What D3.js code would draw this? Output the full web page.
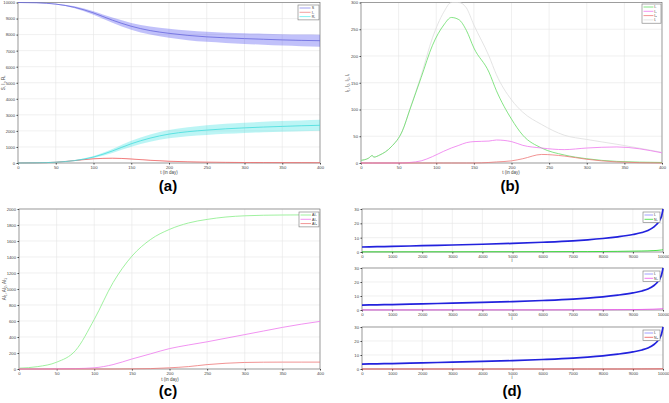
<!DOCTYPE html>
<html>
<head>
<meta charset="utf-8">
<script src="https://cdn.jsdelivr.net/npm/d3@7"></script>
<style>
  body { margin: 0; background: #fff; }
  svg { font-family: "Liberation Sans", Arial, sans-serif; }
  .tick text { font-size: 4.2px; fill: #444; }
  .tick line { stroke: #444; }
</style>
</head>
<body>
<script>
// panel (a): S, I_s, R_s with bands
const tA = [0, 25, 50, 75, 100, 125, 150, 175, 200, 225, 250, 275, 300, 325, 350, 375, 400];
const sMean = [10000, 9980, 9900, 9700, 9350, 8900, 8520, 8250, 8080, 7950, 7860, 7800, 7750, 7710, 7670, 7640, 7620];
const sBand = [0, 5, 20, 60, 110, 160, 210, 250, 280, 300, 310, 320, 330, 340, 350, 360, 370];
const isMean = [0, 10, 50, 150, 260, 300, 250, 170, 110, 75, 55, 40, 30, 25, 22, 20, 18];
const isBand = [0, 2, 5, 10, 15, 18, 18, 15, 12, 10, 8, 6, 5, 5, 4, 4, 4];
const rsMean = [0, 10, 50, 150, 370, 750, 1200, 1550, 1800, 1950, 2050, 2130, 2190, 2240, 2280, 2320, 2350];
const rsBand = [0, 3, 10, 30, 60, 120, 180, 230, 260, 280, 300, 310, 320, 325, 330, 335, 340];

// panel (b): daily infections
const tB = [0, 10, 15, 17, 25, 40, 55, 65, 80, 95, 110, 120, 130, 140, 150, 170, 180, 200, 215, 240, 270, 300, 340, 400];
const i1 = [5, 9, 14, 11, 15, 30, 60, 100, 160, 220, 258, 272, 268, 248, 215, 170, 135, 82, 52, 28, 15, 8, 3, 1];
const i2 = [0, 0, 0, 0, 0, 0, 0, 1, 4, 12, 22, 28, 33, 38, 40, 41, 43, 40, 33, 28, 25, 28, 30, 19];
const i3 = [0, 0, 0, 0, 0, 0, 0, 0, 0, 0, 0, 0, 0, 0, 0, 1, 2, 4, 8, 16, 13, 7, 2, 0];
const iT = [5, 9, 14, 11, 15, 30, 60, 101, 164, 234, 282, 300, 300, 290, 258, 200, 165, 118, 95, 72, 52, 44, 35, 20];

// panel (c): cumulative infections
const tC = [0, 25, 50, 75, 100, 125, 150, 175, 200, 225, 250, 275, 300, 325, 350, 375, 400];
const ai1 = [10, 30, 85, 230, 620, 1080, 1410, 1620, 1745, 1825, 1870, 1900, 1915, 1922, 1925, 1926, 1927];
const ai2 = [0, 0, 2, 5, 15, 55, 125, 190, 255, 300, 340, 385, 430, 475, 520, 560, 595];
const ai3 = [0, 0, 0, 0, 0, 0, 2, 5, 15, 30, 55, 72, 82, 85, 86, 86, 86];

// panel (d): sorted individual values
const idx = [0, 500, 1000, 2000, 3000, 4000, 5000, 6000, 7000, 7500, 8000, 8500, 9000, 9300, 9500, 9700, 9800, 9900, 9950, 10000];
const blueVals = [3.5, 3.7, 3.9, 4.4, 4.9, 5.4, 6.0, 6.8, 7.8, 8.5, 9.4, 10.6, 12.2, 13.6, 15.0, 17.5, 19.5, 22.5, 25, 30];
const greenVals = [0.1, 0.1, 0.1, 0.15, 0.15, 0.2, 0.2, 0.25, 0.3, 0.3, 0.35, 0.45, 0.6, 0.7, 0.8, 1.0, 1.1, 1.3, 1.4, 1.6];
const magVals = [0.05, 0.05, 0.05, 0.05, 0.1, 0.1, 0.1, 0.1, 0.15, 0.15, 0.2, 0.25, 0.3, 0.4, 0.5, 0.6, 0.7, 0.8, 0.9, 1.1];
const redVals = [0, 0, 0, 0, 0, 0, 0, 0, 0, 0, 0, 0, 0.02, 0.03, 0.05, 0.06, 0.08, 0.1, 0.12, 0.15];

const W = 669, H = 403;
const svg = d3.select("body").append("svg").attr("width", W).attr("height", H);
const fmt = d3.format("d");

function axesBox(box, xDom, yDom, xTicks, yTicks) {
  const g = svg.append("g");
  const x = d3.scaleLinear().domain(xDom).range([box.l, box.r]);
  const y = d3.scaleLinear().domain(yDom).range([box.b, box.t]);
  // grid
  g.selectAll(".gx").data(xTicks).enter().append("line")
    .attr("x1", d => x(d)).attr("x2", d => x(d)).attr("y1", box.t).attr("y2", box.b)
    .attr("stroke", "#e6e6e6").attr("stroke-width", 0.6);
  g.selectAll(".gy").data(yTicks).enter().append("line")
    .attr("y1", d => y(d)).attr("y2", d => y(d)).attr("x1", box.l).attr("x2", box.r)
    .attr("stroke", "#e6e6e6").attr("stroke-width", 0.6);
  g.append("rect").attr("x", box.l).attr("y", box.t)
    .attr("width", box.r - box.l).attr("height", box.b - box.t)
    .attr("fill", "none").attr("stroke", "#666").attr("stroke-width", 0.6);
  g.append("g").attr("transform", `translate(0,${box.b})`)
    .call(d3.axisBottom(x).tickValues(xTicks).tickFormat(fmt).tickSize(1.5).tickPadding(1.5))
    .call(a => a.select(".domain").remove());
  g.append("g").attr("transform", `translate(${box.l},0)`)
    .call(d3.axisLeft(y).tickValues(yTicks).tickFormat(fmt).tickSize(1.5).tickPadding(1.5))
    .call(a => a.select(".domain").remove());
  return { g, x, y };
}

function line(ax, xs, ys, color, w) {
  const gen = d3.line().x((d, i) => ax.x(xs[i])).y(d => ax.y(d)).curve(d3.curveMonotoneX);
  ax.g.append("path").attr("d", gen(ys)).attr("fill", "none")
    .attr("stroke", color).attr("stroke-width", w || 0.8);
}

function band(ax, xs, mean, half, color) {
  const gen = d3.area().x((d, i) => ax.x(xs[i]))
    .y0((d, i) => ax.y(mean[i] - half[i])).y1((d, i) => ax.y(mean[i] + half[i]))
    .curve(d3.curveMonotoneX);
  ax.g.append("path").attr("d", gen(mean)).attr("fill", color).attr("opacity", 0.3);
}

function legend(ax, x0, y0, w, items) {
  const rowH = 4.3;
  ax.g.append("rect").attr("x", x0).attr("y", y0).attr("width", w)
    .attr("height", items.length * rowH + 2).attr("fill", "#fff")
    .attr("stroke", "#777").attr("stroke-width", 0.6);
  items.forEach((it, i) => {
    const yy = y0 + 3 + i * rowH;
    ax.g.append("line").attr("x1", x0 + 1.5).attr("x2", x0 + w * 0.6).attr("y1", yy).attr("y2", yy)
      .attr("stroke", it.c).attr("stroke-width", 0.8);
    ax.g.append("text").attr("x", x0 + w * 0.65).attr("y", yy + 1.3)
      .attr("font-size", 3.6).attr("fill", "#333").text(it.t);
  });
}

function ylabel(x, y, txt) {
  svg.append("text").attr("transform", `translate(${x},${y}) rotate(-90)`)
    .attr("text-anchor", "middle").attr("font-size", 4.5).attr("fill", "#444").text(txt);
}
function xlabel(x, y, txt) {
  svg.append("text").attr("x", x).attr("y", y).attr("text-anchor", "middle")
    .attr("font-size", 4.5).attr("fill", "#444").text(txt);
}
function panelTag(x, y, txt) {
  svg.append("text").attr("x", x).attr("y", y).attr("text-anchor", "middle")
    .attr("font-size", 15).attr("font-weight", "bold").attr("fill", "#000").text(txt);
}

const dayTicks = d3.range(0, 401, 50);

// (a)
const A = axesBox({ l: 18, r: 320, t: 2.5, b: 163 }, [0, 400], [0, 10000], dayTicks, d3.range(0, 10001, 1000));
band(A, tA, sMean, sBand, "#3333ee");
band(A, tA, rsMean, rsBand, "#22dddd");
band(A, tA, isMean, isBand, "#ee3333");
line(A, tA, sMean, "#6666dd");
line(A, tA, isMean, "#ee6666");
line(A, tA, rsMean, "#44dddd");
legend(A, 298, 5, 21, [{ t: "S", c: "#8888ee" }, { t: "Iₛ", c: "#ee8888" }, { t: "Rₛ", c: "#66eeee" }]);
ylabel(5, 83, "S, Iₛ, Rₛ");
xlabel(169, 174, "t (in day)");
panelTag(168, 191, "(a)");

// (b)
const B = axesBox({ l: 361, r: 662, t: 2.5, b: 163 }, [0, 400], [0, 300], dayTicks, d3.range(0, 301, 50));
line(B, tB, iT, "#dddddd");
line(B, tB, i1, "#66dd66");
line(B, tB, i2, "#ee77ee");
line(B, tB, i3, "#ee7777");
legend(B, 642, 4, 19, [{ t: "I₁", c: "#66dd66" }, { t: "I₂", c: "#ee77ee" }, { t: "I₃", c: "#ee7777" }, { t: "Iₜ", c: "#dddddd" }]);
ylabel(349, 83, "I₁, I₂, I₃, Iₜ");
xlabel(511, 174, "t (in day)");
panelTag(510, 191, "(b)");

// (c)
const C = axesBox({ l: 19, r: 320, t: 209, b: 369 }, [0, 400], [0, 2000], dayTicks, d3.range(0, 2001, 200));
line(C, tC, ai1, "#88ee88");
line(C, tC, ai2, "#ee77ee");
line(C, tC, ai3, "#ee7777");
legend(C, 299, 212, 20, [{ t: "AI₁", c: "#88ee88" }, { t: "AI₂", c: "#ee77ee" }, { t: "AI₃", c: "#ee7777" }]);
ylabel(6, 289, "AI₁, AI₂, AI₃");
xlabel(170, 380.5, "t (in day)");
panelTag(168, 396, "(c)");

// (d)
const idxTicks = d3.range(0, 10001, 1000);
const subs = [
  { t: 209, b: 252, v: greenVals, c: "#33dd33", lab: "N₁" },
  { t: 268, b: 310, v: magVals, c: "#ee55ee", lab: "N₂" },
  { t: 327, b: 369, v: redVals, c: "#ee5555", lab: "N₃" }
];
subs.forEach(s => {
  const D = axesBox({ l: 362, r: 663, t: s.t, b: s.b }, [0, 10000], [0, 30], idxTicks, [0, 10, 20, 30]);
  line(D, idx, s.v, s.c, 0.9);
  line(D, idx, blueVals, "#2222dd", 1.7);
  legend(D, 643, s.t + 3, 17, [{ t: "Iᵢ", c: "#8888ff" }, { t: s.lab, c: s.c }]);
  xlabel(512, s.b + 10, "i");
});
panelTag(512, 396, "(d)");
</script>
</body>
</html>
